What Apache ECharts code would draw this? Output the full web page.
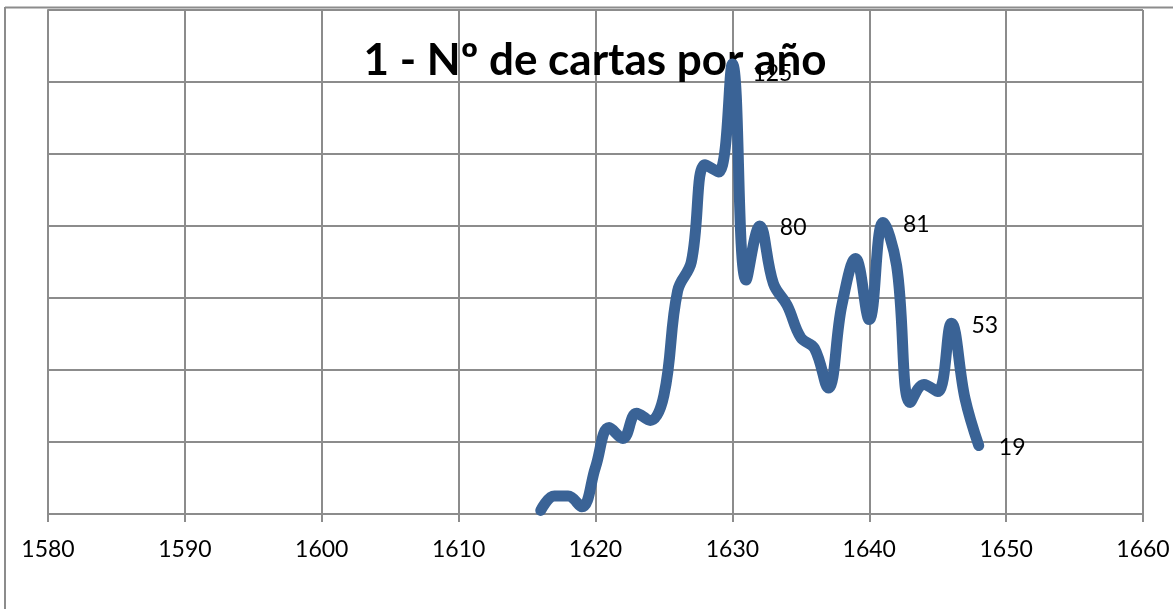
<!DOCTYPE html>
<html>
<head>
<meta charset="utf-8">
<script src="https://cdn.jsdelivr.net/npm/echarts@6/dist/echarts.min.js"></script>
<style>
html,body{margin:0;padding:0;background:#fff;}
#chart{width:1173px;height:609px;}
</style>
</head>
<body>
<div id="chart"></div>
<script>
const titleText = '1 - Nº de cartas por año';
const years = [1616,1617,1618,1619,1620,1621,1622,1623,1624,1625,1626,1627,1628,1629,1630,1631,1632,1633,1634,1635,1636,1637,1638,1639,1640,1641,1642,1643,1644,1645,1646,1647,1648];
const cartas = [1,5,5,2,13,24,21,28,26,33,62,70,97,95,125,65,80,64,58,49,46,35,58,71,54,81,69,31,36,34,53,32,19];
const labeledYears = [1630,1632,1641,1646,1648];
const xTicks = [1580,1590,1600,1610,1620,1630,1640,1650,1660];

const gridColor = '#8c8c8c';
const lineColor = '#3a6396';

const data = years.map((y, i) => ({
  value: [y, cartas[i]],
  label: { show: labeledYears.includes(y), offset: y === 1630 ? [0, 10] : [0, 2] }
}));

const chart = echarts.init(document.getElementById('chart'));
chart.setOption({
  animation: false,
  backgroundColor: '#fff',
  grid: { left: 48, right: 30, top: 10, bottom: 95, containLabel: false },
  xAxis: {
    type: 'value',
    min: xTicks[0], max: xTicks[xTicks.length - 1], interval: 10,
    axisLine: { show: true, lineStyle: { color: gridColor, width: 2 } },
    axisTick: { show: true, length: 8, lineStyle: { color: gridColor, width: 2 } },
    axisLabel: { color: '#000', fontSize: 23, fontFamily: 'Lato', margin: 24, formatter: v => String(v) },
    splitLine: { show: true, lineStyle: { color: gridColor, width: 2 } }
  },
  yAxis: {
    type: 'value',
    min: 0, max: 140, interval: 20,
    axisLine: { show: true, lineStyle: { color: gridColor, width: 2 } },
    axisTick: { show: false },
    axisLabel: { show: false },
    splitLine: { show: true, lineStyle: { color: gridColor, width: 2 } }
  },
  graphic: [
    { type: 'line', z: 1, shape: { x1: 5, y1: 7.5, x2: 1173, y2: 7.5 }, style: { stroke: gridColor, lineWidth: 2 } },
    { type: 'line', z: 1, shape: { x1: 5, y1: 7, x2: 5, y2: 609 }, style: { stroke: gridColor, lineWidth: 2 } },
    { type: 'text', z: 1, x: 595, y: 61, style: { text: titleText, fill: '#000', font: 'bold 44px Lato', textAlign: 'center', textVerticalAlign: 'middle' } }
  ],
  series: [{
    type: 'line',
    data: data,
    smooth: 0.4,
    symbol: 'circle',
    symbolSize: 0.1,
    lineStyle: { color: lineColor, width: 11, cap: 'round', join: 'round' },
    itemStyle: { color: lineColor },
    label: { position: 'right', distance: 20, color: '#000', fontSize: 23, fontFamily: 'Lato', formatter: p => p.value[1] },
    z: 2
  }]
});
</script>
</body>
</html>
